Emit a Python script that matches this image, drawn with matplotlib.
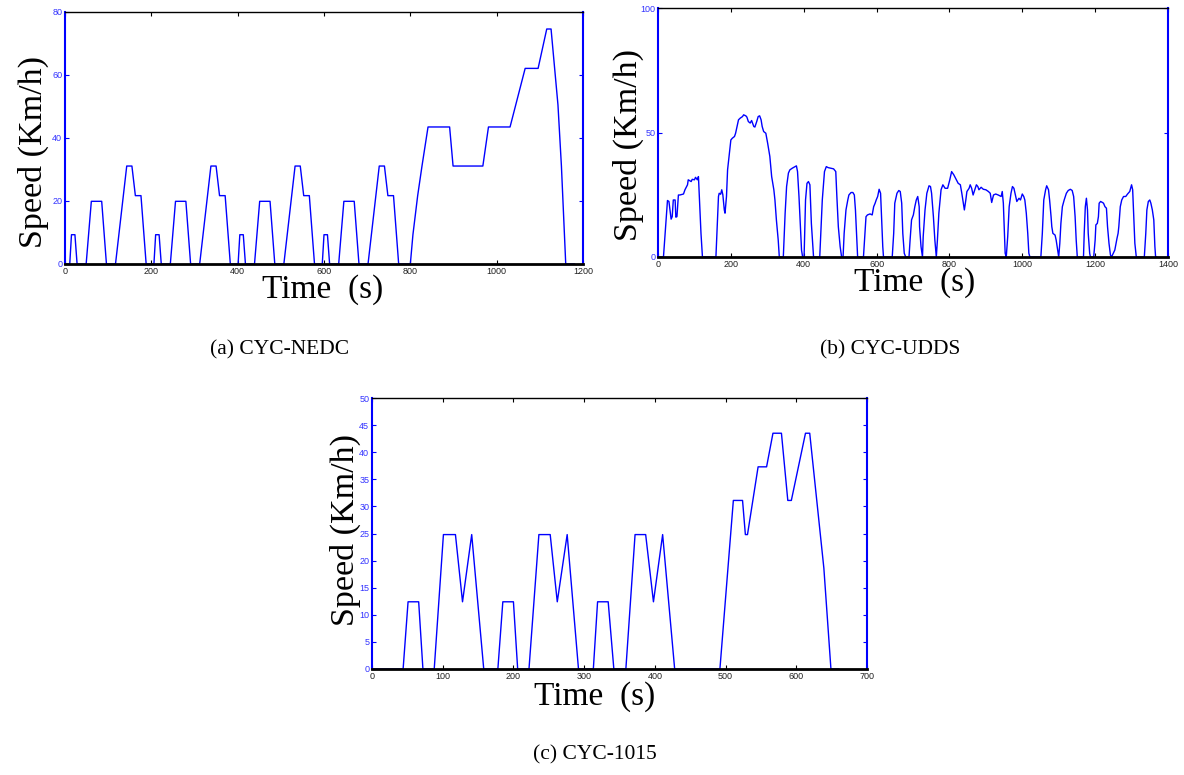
import matplotlib
matplotlib.use("Agg")
import matplotlib.pyplot as plt

# ---------------- data ----------------
# (a) CYC-NEDC  (time s, speed)
nedc_t = [0, 11, 15, 23, 28, 49, 61, 85, 96, 117, 143, 155, 163, 176, 188,
          195, 206, 210, 218, 223, 244, 256, 280, 291, 312, 338, 350, 358, 371, 383,
          390, 401, 405, 413, 418, 439, 451, 475, 486, 507, 533, 545, 553, 566, 578,
          585, 596, 600, 608, 613, 634, 646, 670, 681, 702, 728, 740, 748, 761, 773,
          780, 800, 806, 817, 827, 841, 891, 899, 968, 981, 1031, 1066, 1096, 1116,
          1126, 1142, 1150, 1160, 1180]
nedc_v = [0, 0, 9.3, 9.3, 0, 0, 19.9, 19.9, 0, 0, 31.1, 31.1, 21.7, 21.7, 0,
          0, 0, 9.3, 9.3, 0, 0, 19.9, 19.9, 0, 0, 31.1, 31.1, 21.7, 21.7, 0,
          0, 0, 9.3, 9.3, 0, 0, 19.9, 19.9, 0, 0, 31.1, 31.1, 21.7, 21.7, 0,
          0, 0, 9.3, 9.3, 0, 0, 19.9, 19.9, 0, 0, 31.1, 31.1, 21.7, 21.7, 0,
          0, 0, 9.3, 21.7, 31.1, 43.5, 43.5, 31.1, 31.1, 43.5, 43.5, 62.1, 62.1, 74.6,
          74.6, 50.5, 31.1, 0, 0]

# (b) CYC-UDDS
udds_t = [0, 15, 26, 30, 36, 39, 42, 47, 49, 52, 56, 60, 70, 74, 81, 83, 91, 94,
          100, 103, 108, 111, 114, 118, 122, 159, 166, 168, 172, 175, 178, 182, 184,
          188, 191, 195, 200, 204, 210, 213, 217, 221, 226, 232, 235, 241, 244, 248,
          253, 257, 263, 266, 271, 275, 279, 283, 286, 290, 296, 301, 307, 312, 318,
          321, 325, 330, 333, 344, 349, 353, 358, 362, 369, 376, 380, 383, 387, 391,
          394, 397, 401, 405, 409, 413, 417, 421, 425, 427, 444, 447, 451, 457, 462,
          467, 473, 482, 488, 491, 495, 500, 504, 508, 511, 516, 521, 524, 530, 535,
          539, 542, 545, 548, 564, 568, 571, 575, 582, 588, 592, 596, 599, 603, 607,
          611, 614, 617, 619, 643, 647, 650, 656, 661, 665, 669, 672, 676, 680, 689,
          692, 696, 701, 705, 709, 713, 717, 718, 722, 726, 728, 733, 738, 744, 748,
          751, 756, 760, 764, 767, 771, 777, 782, 788, 795, 801, 806, 812, 817, 824,
          830, 834, 838, 841, 845, 848, 854, 857, 861, 865, 868, 874, 878, 881, 887,
          893, 900, 907, 912, 916, 921, 927, 934, 942, 945, 948, 951, 953, 956, 960,
          964, 969, 973, 977, 982, 985, 991, 995, 1000, 1004, 1007, 1011, 1015, 1018,
          1021, 1051, 1055, 1059, 1064, 1067, 1072, 1075, 1079, 1081, 1084, 1090, 1093,
          1097, 1100, 1103, 1106, 1110, 1115, 1121, 1126, 1132, 1137, 1141, 1145, 1148,
          1151, 1168, 1170, 1173, 1176, 1179, 1181, 1185, 1187, 1196, 1200, 1202, 1206,
          1209, 1211, 1215, 1220, 1223, 1227, 1231, 1234, 1238, 1242, 1245, 1250, 1254,
          1260, 1263, 1265, 1269, 1273, 1278, 1284, 1289, 1295, 1300, 1303, 1306, 1309,
          1313, 1335, 1339, 1342, 1346, 1350, 1353, 1357, 1361, 1364, 1366, 1369]
udds_v = [0, 0, 22.7, 22.3, 15.2, 16.2, 22.9, 22.9, 16.0, 16.2, 24.9, 24.9, 25.3, 27.0,
          29.0, 31.0, 30.3, 31.2, 31.0, 32.0, 31.0, 32.3, 22.9, 9.5, 0, 0, 24.3, 25.6,
          25.2, 27.0, 25.0, 18.9, 17.6, 24.3, 35.0, 40.4, 47.0, 47.7, 48.4, 49.7, 52.4,
          55.1, 55.8, 56.4, 57.1, 56.7, 56.2, 54.4, 53.8, 54.8, 52.4, 52.2, 54.4, 56.4,
          56.7, 55.1, 52.4, 50.4, 49.7, 45.7, 40.4, 32.3, 27.0, 22.9, 14.9, 6.8, 0, 0,
          17.6, 28.3, 33.7, 35.0, 35.7, 36.3, 36.6, 34.3, 24.3, 12.2, 2.8, 0, 0, 22.9,
          29.6, 30.3, 29.0, 13.5, 4.2, 0, 0, 9.5, 22.9, 34.3, 36.3, 35.9, 35.7, 35.4,
          34.3, 24.3, 12.2, 4.2, 0, 0, 9.5, 18.9, 22.9, 24.9, 25.9, 25.9, 24.9, 18.9,
          9.5, 0, 0, 9.5, 16.2, 16.9, 17.3, 16.9, 20.2, 21.6, 22.9, 24.3, 27.2, 25.6,
          14.9, 4.2, 0, 0, 9.5, 21.6, 25.6, 26.7, 26.3, 21.6, 9.5, 1.5, 0, 0, 6.8, 14.9,
          16.9, 20.2, 22.9, 24.3, 20.2, 12.2, 4.2, 0, 8.2, 18.9, 25.6, 28.6, 28.3, 25.6,
          16.2, 6.8, 0, 6.8, 17.6, 27.0, 29.0, 27.6, 27.6, 31.0, 34.3, 33.0, 31.6, 29.6,
          29.0, 25.6, 21.6, 18.9, 22.9, 26.3, 27.6, 29.0, 27.6, 24.9, 26.3, 29.0, 28.3,
          27.0, 28.0, 27.2, 27.0, 26.3, 25.6, 21.9, 24.9, 25.3, 24.9, 24.3, 26.3, 21.6,
          9.5, 1.5, 0, 8.2, 20.2, 25.6, 28.3, 27.6, 24.3, 22.3, 23.6, 22.9, 25.3, 24.3,
          22.9, 17.6, 9.5, 1.5, 0, 0, 9.5, 22.9, 27.0, 28.6, 27.0, 22.9, 16.2, 12.2, 9.5,
          8.8, 6.8, 2.8, 0, 5.5, 13.5, 20.2, 22.9, 25.6, 26.7, 27.2, 26.7, 24.3, 16.2,
          6.8, 0, 0, 9.5, 20.2, 23.6, 18.9, 9.5, 1.5, 0, 0, 6.8, 12.9, 13.5, 16.2, 21.6,
          22.3, 21.9, 21.6, 20.2, 19.6, 12.2, 5.5, 0.8, 0, 1.5, 2.8, 7.5, 9.5, 12.2,
          20.2, 22.9, 24.3, 24.3, 25.3, 26.3, 29.0, 27.0, 16.2, 5.5, 0, 0, 9.5, 18.9,
          22.3, 22.9, 21.6, 18.9, 14.9, 4.2, 0, 0]

# (c) CYC-1015
j1015_t = [0, 44, 51, 66, 72, 88, 101, 118, 128, 141, 158, 178, 185, 200, 206, 222,
           236, 252, 262, 276, 292, 313, 319, 334, 342, 359, 372, 387, 398, 411, 428,
           492, 511, 524, 528, 531, 546, 558, 567, 579, 588, 593, 613, 619, 639, 649, 660]
j1015_v = [0, 0, 12.4, 12.4, 0, 0, 24.8, 24.8, 12.4, 24.8, 0, 0, 12.4, 12.4, 0, 0,
           24.8, 24.8, 12.4, 24.8, 0, 0, 12.4, 12.4, 0, 0, 24.8, 24.8, 12.4, 24.8, 0,
           0, 31.1, 31.1, 24.8, 24.8, 37.3, 37.3, 43.5, 43.5, 31.1, 31.1, 43.5, 43.5,
           18.6, 0, 0]

panels = [
    dict(t=nedc_t, v=nedc_v, xlim=(0, 1200), xticks=[0, 200, 400, 600, 800, 1000, 1200],
         ylim=(0, 80), yticks=[0, 20, 40, 60, 80], box=(65, 583, 12, 264),
         caption="(a) CYC-NEDC", cap=(280, 350), ylab=(33, 152), xlab=(323, 290)),
    dict(t=udds_t, v=udds_v, xlim=(0, 1400), xticks=[0, 200, 400, 600, 800, 1000, 1200, 1400],
         ylim=(0, 100), yticks=[0, 50, 100], box=(658, 1168, 8, 257),
         caption="(b) CYC-UDDS", cap=(890, 350), ylab=(628, 145), xlab=(915, 283)),
    dict(t=j1015_t, v=j1015_v, xlim=(0, 700), xticks=[0, 100, 200, 300, 400, 500, 600, 700],
         ylim=(0, 50), yticks=list(range(0, 51, 5)), box=(372, 867, 398, 669),
         caption="(c) CYC-1015", cap=(595, 755), ylab=(345, 530), xlab=(595, 697)),
]

W, H = 1184, 775
fig = plt.figure(figsize=(W / 100, H / 100), dpi=100)
blue = "#0000ff"
tickblue = "#3333ff"
serif = ["Liberation Serif", "DejaVu Serif"]
sans = ["Liberation Sans", "DejaVu Sans"]

for p in panels:
    l, r, t, b = p["box"]
    ax = fig.add_axes([l / W, 1 - b / H, (r - l) / W, (b - t) / H])
    ax.plot(p["t"], p["v"], color=blue, lw=1.0, zorder=2)
    ax.set_xlim(*p["xlim"])
    ax.set_ylim(*p["ylim"])
    ax.set_xticks(p["xticks"])
    ax.set_yticks(p["yticks"])
    ax.tick_params(axis="x", direction="in", length=3, width=0.8, top=True,
                   labelsize=6.5, labelcolor="#222222", pad=2, color="black")
    ax.tick_params(axis="y", direction="in", length=3, width=0.8, right=True,
                   labelsize=6.5, labelcolor=tickblue, pad=2, color=blue)
    for lab in ax.get_xticklabels() + ax.get_yticklabels():
        lab.set_family(sans)
    ax.spines["top"].set_color("black")
    ax.spines["top"].set_linewidth(1.0)
    ax.spines["bottom"].set_color("black")
    ax.spines["bottom"].set_linewidth(2.0)
    ax.spines["left"].set_color(blue)
    ax.spines["left"].set_linewidth(1.5)
    ax.spines["right"].set_color(blue)
    ax.spines["right"].set_linewidth(1.5)

    ax.set_ylabel("Speed (Km/h)", fontsize=24.5, family=serif, color="black")
    ax.set_xlabel("Time  (s)", fontsize=24, family=serif, color="black")
    yx, yy = p["ylab"]
    xx, xy = p["xlab"]
    ax.yaxis.label.set_verticalalignment("center")
    ax.xaxis.label.set_verticalalignment("center")
    ax.yaxis.set_label_coords((yx - l) / (r - l), (b - yy) / (b - t))
    ax.xaxis.set_label_coords((xx - l) / (r - l), (b - xy) / (b - t))

    cx, cy = p["cap"]
    fig.text(cx / W, 1 - cy / H, p["caption"], ha="center", va="center",
             fontsize=15.5, family=serif)

fig.savefig("out.png", dpi=100, facecolor="white")
